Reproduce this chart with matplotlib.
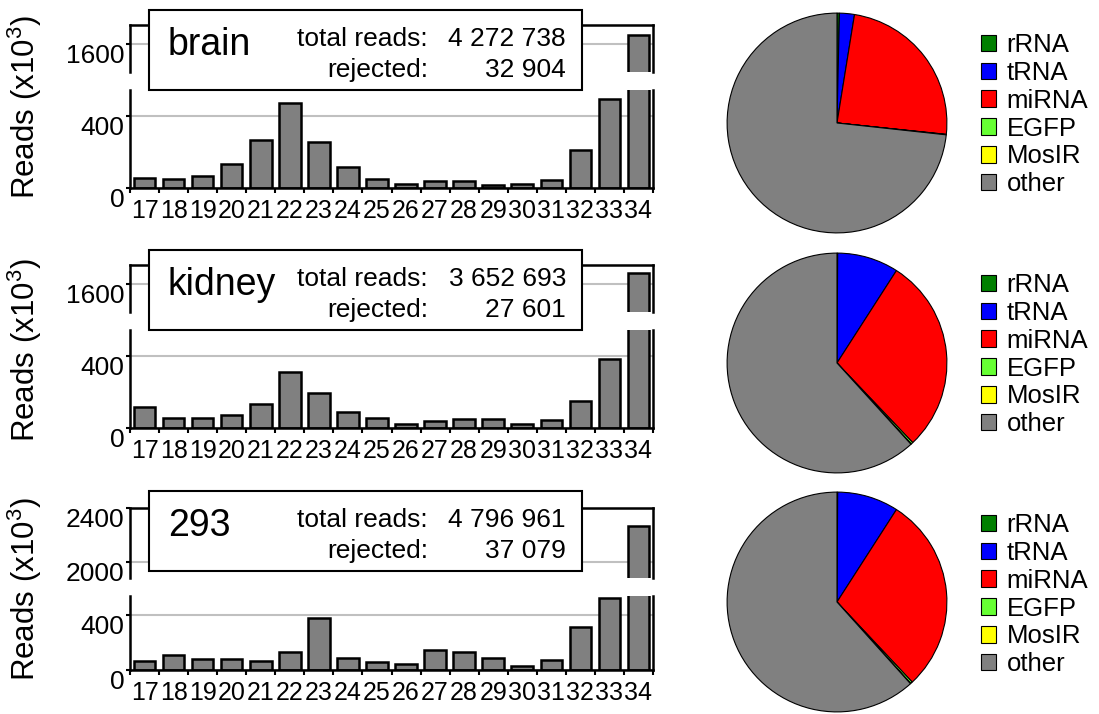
import matplotlib
matplotlib.use('Agg')
import matplotlib.pyplot as plt
from matplotlib.patches import Rectangle

plt.rcParams['font.family'] = ['Liberation Sans', 'DejaVu Sans']
plt.rcParams['mathtext.fontset'] = 'custom'
plt.rcParams['mathtext.rm'] = 'Liberation Sans'
plt.rcParams['mathtext.it'] = 'Liberation Sans:italic'
plt.rcParams['mathtext.bf'] = 'Liberation Sans:bold'

# read lengths (nt) and reads (x10^3) per sample
lengths = list(range(17, 35))
brain_reads = [58, 48, 67, 131, 266, 471, 257, 117, 48, 25, 39, 39, 15, 25, 47, 210, 497, 1650]
kidney_reads = [117, 56, 56, 75, 136, 313, 196, 89, 58, 25, 39, 49, 49, 25, 47, 149, 385, 1661]
hek_reads = [65, 109, 78, 78, 65, 133, 380, 85, 56, 41, 143, 131, 85, 29, 73, 313, 526, 2265]

# composition (%) for the pies
pie_labels = ['rRNA', 'tRNA', 'miRNA', 'EGFP', 'MosIR', 'other']
pie_colors = ['#007f00', '#0000ff', '#ff0000', '#66ff33', '#ffff00', '#808080']
brain_pie = [0.35, 2.2, 24.1, 0.05, 0.02, 73.28]
kidney_pie = [0.1, 9.0, 28.8, 0.3, 0.05, 61.75]
hek_pie = [0.1, 9.0, 28.9, 0.3, 0.05, 61.65]

samples = ['brain', 'kidney', '293']
total_reads = ['4 272 738', '3 652 693', '4 796 961']
rejected = ['32 904', '27 601', '37 079']
reads = [brain_reads, kidney_reads, hek_reads]
pies = [brain_pie, kidney_pie, hek_pie]

# layout in pixels (top-down)
panels = [
    dict(up=(25, 72), lo=(90, 188), upl=(1445, 1706), lol=(0, 546), upt=[1600],
         box=10, ylab=107, pie=123, leg=33),
    dict(up=(265, 312), lo=(330, 428), upl=(1445, 1706), lol=(0, 546), upt=[1600],
         box=250, ylab=350, pie=363, leg=273),
    dict(up=(508, 578), lo=(596, 670), upl=(1885, 2400), lol=(0, 538), upt=[2000, 2400],
         box=491, ylab=589, pie=602, leg=513),
]

W, H = 1099, 714
fig = plt.figure(figsize=(W / 100, H / 100), dpi=100)


def rect(x0, y0, x1, y1):
    return [x0 / W, 1 - y1 / H, (x1 - x0) / W, (y1 - y0) / H]


X0, X1 = 130, 653
for i, p in enumerate(panels):
    ax_up = fig.add_axes(rect(X0, p['up'][0], X1, p['up'][1]))
    ax_lo = fig.add_axes(rect(X0, p['lo'][0], X1, p['lo'][1]))
    for ax in (ax_up, ax_lo):
        ax.bar(lengths, reads[i], width=0.74, color='#808080', edgecolor='black',
               linewidth=1.8, zorder=2)
        ax.set_xlim(16.5, 34.5)
        ax.yaxis.grid(True, color='#c0c0c0', linewidth=1.5)
        ax.set_axisbelow(True)
        for s in ax.spines.values():
            s.set_linewidth(1.8)
        ax.tick_params(axis='y', length=3, width=1.5, pad=1, labelsize=19)
    ax_up.set_ylim(*p['upl'])
    ax_up.set_yticks(p['upt'])
    ax_up.spines['bottom'].set_visible(False)
    ax_up.tick_params(axis='x', which='both', bottom=False, labelbottom=False)
    ax_lo.set_ylim(*p['lol'])
    ax_lo.set_yticks([0, 400])
    ax_lo.spines['top'].set_visible(False)
    ax_lo.set_xticks(lengths)
    ax_lo.set_xticklabels([str(v) for v in lengths])
    ax_lo.set_xticks([v - 0.5 for v in lengths] + [34.5], minor=True)
    ax_lo.tick_params(axis='x', which='major', length=0, pad=8, labelsize=18)
    ax_lo.tick_params(axis='x', which='minor', length=3.5, width=1.5)
    for ax in (ax_up, ax_lo):
        plt.setp(ax.get_yticklabels(), va='top')

    fig.text(25 / W, 1 - p['ylab'] / H, 'Reads (x10$^3$)', rotation=90,
             ha='center', va='center', fontsize=22.5)

    # info box
    bt = p['box']
    fig.add_artist(Rectangle((149 / W, 1 - (bt + 80) / H), (582 - 149) / W, 80 / H,
                             transform=fig.transFigure, facecolor='white',
                             edgecolor='black', linewidth=1.5, zorder=5))
    fig.text(168 / W, 1 - (bt + 45) / H, samples[i], fontsize=27,
             ha='left', va='baseline', zorder=6)
    fig.text(428 / W, 1 - (bt + 36) / H, 'total reads:', fontsize=19,
             ha='right', va='baseline', zorder=6)
    fig.text(428 / W, 1 - (bt + 67) / H, 'rejected:', fontsize=19,
             ha='right', va='baseline', zorder=6)
    fig.text(566 / W, 1 - (bt + 36) / H, total_reads[i], fontsize=19,
             ha='right', va='baseline', zorder=6)
    fig.text(566 / W, 1 - (bt + 67) / H, rejected[i], fontsize=19,
             ha='right', va='baseline', zorder=6)

    # pie
    cx, cy, r = 837, p['pie'], 111
    ax_p = fig.add_axes(rect(cx - r, cy - r, cx + r, cy + r))
    wedges, _ = ax_p.pie(pies[i], colors=pie_colors, startangle=90, counterclock=False,
                         wedgeprops=dict(edgecolor='black', linewidth=0.8))
    ax_p.set_xlim(-1.01, 1.01)
    ax_p.set_ylim(-1.01, 1.01)
    fig.legend(wedges, pie_labels, loc='upper left',
               bbox_to_anchor=(981 / W, 1 - p['leg'] / H), frameon=False,
               fontsize=18.5, handlelength=0.6, handleheight=0.6,
               handletextpad=0.4, labelspacing=0.15, borderpad=0, borderaxespad=0)

fig.savefig('out.png', dpi=100)
